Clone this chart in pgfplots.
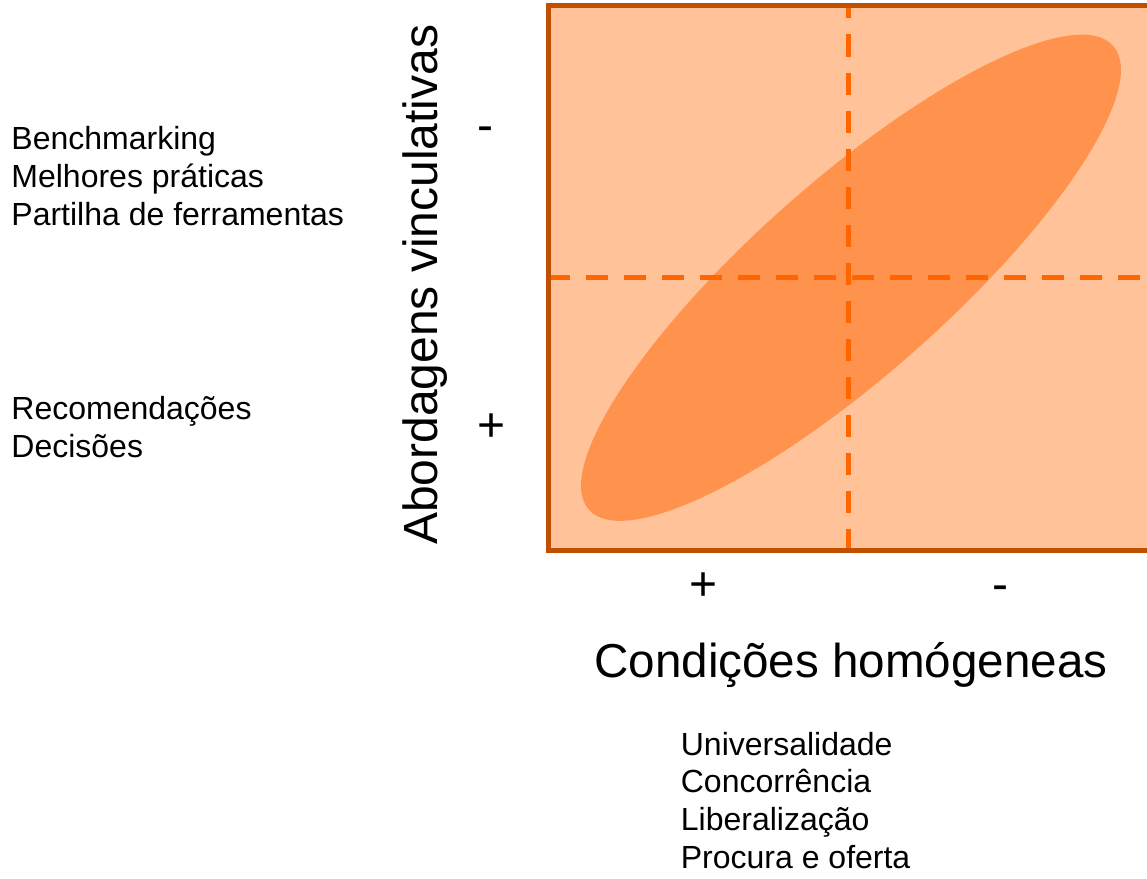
\documentclass[border=0pt]{standalone}
\usepackage{fontspec}
\setmainfont{Liberation Sans}
\usepackage{pgfplots}
\pgfplotsset{compat=1.18}
\definecolor{boxfill}{RGB}{255,194,153}
\definecolor{boxline}{RGB}{192,80,0}
\definecolor{ellfill}{RGB}{255,147,77}
\definecolor{dashcol}{RGB}{255,102,0}
\begin{document}
\begin{tikzpicture}
\begin{axis}[
  at={(0pt,0pt)}, anchor=south west,
  scale only axis, width=301.75pt, height=272.75pt,
  xmin=0, xmax=2.01, ymin=0, ymax=2,
  axis on top,
  clip=false,
  axis background/.style={fill=boxfill},
  axis line style={draw=boxline, line width=2.5pt},
  xtick={0.516,1.505}, xticklabels={{+},{-}},
  ytick={0.40,1.5}, yticklabels={{+},{-}},
  major tick length=0pt,
  xticklabel style={anchor=base, inner sep=0pt, yshift=-24.75pt, font=\fontsize{24}{28}\selectfont},
  yticklabel style={anchor=base west, inner sep=0pt, xshift=-35.75pt, font=\fontsize{24}{28}\selectfont},
  xlabel={Condições homógeneas},
  ylabel={Abordagens vinculativas},
  xlabel style={at={([xshift=0.4pt,yshift=-63.25pt]axis description cs:0.5,0)}, anchor=base, inner sep=0pt, font=\fontsize{23.8}{28}\selectfont},
  ylabel style={at={([xshift=-55.25pt,yshift=-3.5pt]axis description cs:0,0.5)}, anchor=base, inner sep=0pt, font=\fontsize{24}{28}\selectfont},
]
\fill[ellfill, rotate around={41.5:(axis cs:1.0075,1)}] (axis cs:1.0075,1) ellipse [x radius=175pt, y radius=48.5pt];
\addplot[dashcol, line width=2.5pt, dash pattern=on 11pt off 8pt] coordinates {(1,0) (1,2)};
\addplot[dashcol, line width=2.5pt, dash pattern=on 11pt off 8pt] coordinates {(0,1) (2.01,1)};
\begin{scope}[every node/.style={anchor=base west, inner sep=0pt, font=\fontsize{16}{18.75}\selectfont}]
\node at (axis cs:-1.790,1.4684) {Benchmarking};
\node at (axis cs:-1.790,1.3309) {Melhores práticas};
\node at (axis cs:-1.790,1.1934) {Partilha de ferramentas};
\node at (axis cs:-1.790,0.4821) {Recomendações};
\node at (axis cs:-1.790,0.3428) {Decisões};
\node at (axis cs:0.4396,-0.7498) {Universalidade};
\node at (axis cs:0.4396,-0.8880) {Concorrência};
\node at (axis cs:0.4396,-1.0259) {Liberalização};
\node at (axis cs:0.4396,-1.1641) {Procura e oferta};
\end{scope}
\end{axis}
\pgfresetboundingbox
\path[use as bounding box] (-274.25pt,-164.25pt) rectangle (299.25pt,275.25pt);
\end{tikzpicture}
\end{document}
